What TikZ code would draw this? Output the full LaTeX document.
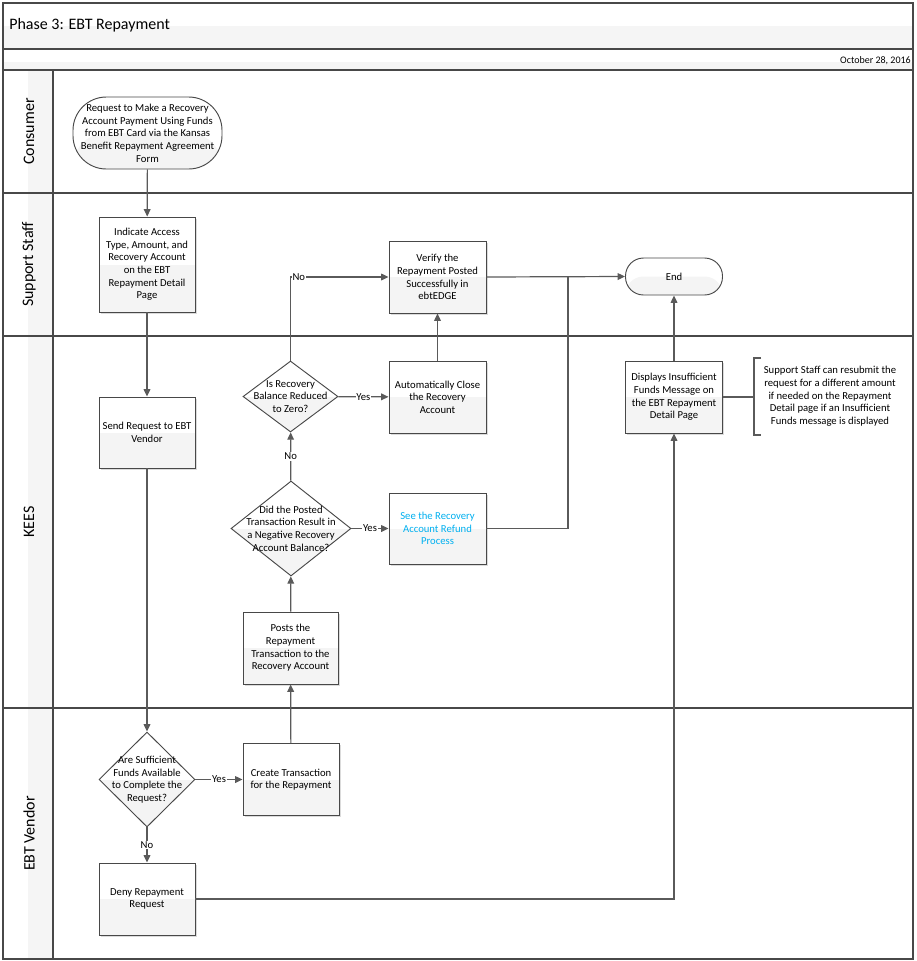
\documentclass[tikz,border=0pt]{standalone}
\usepackage{fontspec}
\setmainfont{Carlito}
\usetikzlibrary{shapes.geometric,shapes.misc,arrows.meta}
\definecolor{lowgrey}{HTML}{F4F4F4}
\definecolor{lanegrey}{HTML}{F5F5F5}
\definecolor{linegrey}{HTML}{5A5A5A}
\definecolor{bordergrey}{HTML}{484848}
\definecolor{linkblue}{HTML}{00B0F0}
\tikzset{
  halfgrey/.style={path picture={\fill[lowgrey] (path picture bounding box.west) rectangle (path picture bounding box.south east);}},
  box/.style={rectangle, draw=bordergrey, line width=0.7pt, fill=white, halfgrey,
    align=center, inner sep=1pt, font=\fontsize{8}{9.5}\selectfont,
    preaction={fill=black!14, draw=none, transform canvas={shift={(1.2pt,-1.2pt)}}}},
  term/.style={rectangle, draw=bordergrey, line width=0.7pt, fill=white, halfgrey,
    align=center, inner sep=1pt, font=\fontsize{8}{9.5}\selectfont},
  dia/.style={diamond, draw=bordergrey, line width=0.7pt, fill=white, halfgrey, inner sep=0pt},
  dtext/.style={align=center, inner sep=0pt, font=\fontsize{8}{9.5}\selectfont},
  conn/.style={draw=linegrey, line width=0.9pt, -{Triangle[length=5.5pt,width=5pt]}},
  plain/.style={draw=linegrey, line width=0.9pt},
  lbl/.style={fill=white, inner sep=0.6pt, font=\fontsize{8}{9.5}\selectfont},
  lanename/.style={rotate=90, font=\fontsize{12}{14}\selectfont},
  frame/.style={draw=bordergrey, line width=1.1pt}
}
\begin{document}
\begin{tikzpicture}[x=0.75pt, y=-0.75pt]
\useasboundingbox (0,0) rectangle (917,961);
% backgrounds
\fill[lanegrey] (3,26) rectangle (913,49);
\fill[lanegrey] (3,62) rectangle (913,70);
\fill[lanegrey] (28,70) rectangle (53,959);
% frame and lanes
\draw[frame] (3,3) rectangle (913,959);
\draw[frame] (3,49) -- (913,49);
\draw[frame] (3,70) -- (913,70);
\draw[frame] (3,193) -- (913,193);
\draw[frame] (3,336) -- (913,336);
\draw[frame] (3,708) -- (913,708);
\draw[frame] (53,70) -- (53,959);
% titles
\node[anchor=west, inner sep=0pt, font=\fontsize{12}{14}\selectfont] (title) at (9,25) {Phase 3: EBT Repayment};
\node[anchor=east, inner sep=0pt, font=\fontsize{7.5}{9}\selectfont] (date) at (911,61) {October 28, 2016};
\node[lanename] (l1) at (29,131.5) {Consumer};
\node[lanename] (l2) at (29,264.5) {Support Staff};
\node[lanename] (l3) at (29,522) {KEES};
\node[lanename] (l4) at (29,833.5) {EBT Vendor};
% nodes
\node[term, rounded corners=25pt, minimum width=111.75pt, minimum height=54pt] (start) at (147.5,133)
  {Request to Make a Recovery\\Account Payment Using Funds\\from EBT Card via the Kansas\\Benefit Repayment Agreement\\Form};
\node[box, minimum width=72pt, minimum height=71.25pt] (ind) at (147,264.5)
  {Indicate Access\\Type, Amount, and\\Recovery Account\\on the EBT\\Repayment Detail\\Page};
\node[box, minimum width=72pt, minimum height=53.25pt] (send) at (147,432.5)
  {Send Request to EBT\\Vendor};
\node[dia, minimum width=72pt, minimum height=71.25pt] (d1) at (147,779.5) {};
\node[dtext] (d1t) at (d1) {Are Sufficient\\Funds Available\\to Complete the\\Request?};
\node[box, minimum width=72pt, minimum height=54pt] (create) at (291,779.5)
  {Create Transaction\\for the Repayment};
\node[box, minimum width=72pt, minimum height=54pt] (deny) at (147,899)
  {Deny Repayment\\Request};
\node[box, minimum width=71.25pt, minimum height=54pt] (posts) at (290.5,648)
  {Posts the\\Repayment\\Transaction to the\\Recovery Account};
\node[dia, minimum width=90pt, minimum height=71.25pt] (d2) at (291,528.5) {};
\node[dtext] (d2t) at (d2) {Did the Posted\\Transaction Result in\\a Negative Recovery\\Account Balance?};
\node[box, minimum width=72.75pt, minimum height=53.25pt] (see) at (437.5,528.5)
  {\color{linkblue}See the Recovery\\\color{linkblue}Account Refund\\\color{linkblue}Process};
\node[dia, minimum width=71.25pt, minimum height=53.25pt] (d3) at (290.5,396.5) {};
\node[dtext] (d3t) at (d3) {Is Recovery\\Balance Reduced\\to Zero?};
\node[box, minimum width=72.75pt, minimum height=54pt] (auto) at (437.5,397)
  {Automatically Close\\the Recovery\\Account};
\node[box, minimum width=72.75pt, minimum height=54pt] (verify) at (437.5,277)
  {Verify the\\Repayment Posted\\Successfully in\\ebtEDGE};
\node[term, rounded corners=13.5pt, minimum width=72.75pt, minimum height=27.75pt] (end) at (674,276.5) {End};
\node[box, minimum width=72.75pt, minimum height=54pt] (disp) at (674,397)
  {Displays Insufficient\\Funds Message on\\the EBT Repayment\\Detail Page};
\node[align=center, inner sep=0pt, font=\fontsize{8}{9.5}\selectfont] (note) at (830,396.5)
  {Support Staff can resubmit the\\request for a different amount\\if needed on the Repayment\\Detail page if an Insufficient\\Funds message is displayed};
\draw[plain, line width=0.8pt] (761,358) -- (754,358) -- (754,435) -- (761,435);
\coordinate (brk) at (754,397);
\coordinate (j1) at (568,277);
% connectors
\draw[conn] (start) -- (ind);
\draw[conn] (ind) -- (send);
\draw[conn] (send) -- (d1);
\draw[conn] (d1) -- node[lbl]{Yes} (create);
\draw[conn] (d1) -- node[lbl]{No} (deny);
\draw[conn] (create) -- (posts);
\draw[conn] (posts) -- (d2);
\draw[conn] (d2) -- node[lbl]{Yes} (see);
\draw[conn] (d2) -- node[lbl]{No} (d3);
\draw[conn] (d3) -- node[lbl]{Yes} (auto);
\draw[conn] (d3.north) |- node[lbl, pos=0.5, anchor=west, xshift=0.5pt]{No} (verify.west);
\draw[conn] (auto) -- (verify);
\draw[conn] (verify.east) -- (end.west);
\draw[plain] (see.east) -| (j1);
\draw[conn] (deny.east) -| (disp.south);
\draw[conn] (disp) -- (end);
\draw[plain] (disp.east) -- (brk);
\end{tikzpicture}
\end{document}
